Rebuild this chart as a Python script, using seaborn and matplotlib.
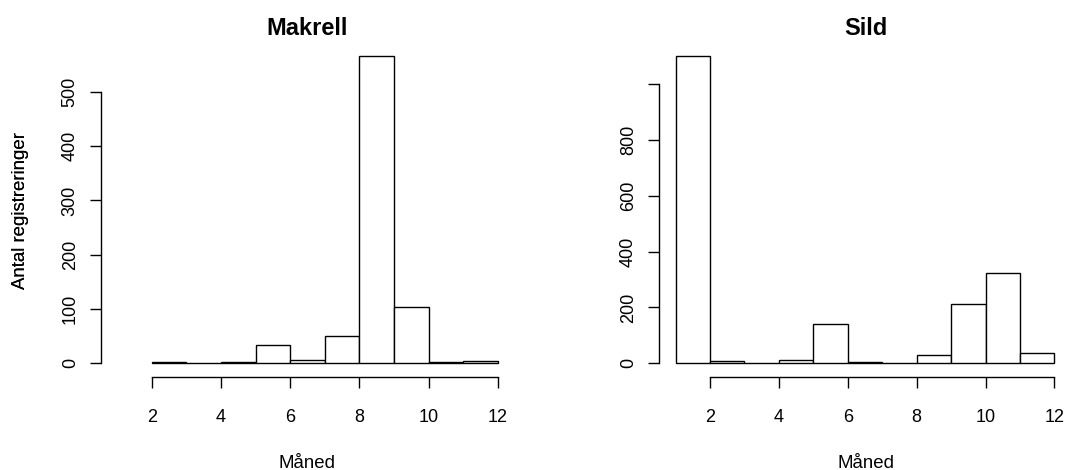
import matplotlib
matplotlib.use("Agg")
import matplotlib.pyplot as plt
import seaborn as sns
import pandas as pd
import numpy as np

# Antal registreringer per måned (histogram, bin = én måned)
makrell_maned = [2, 3, 4, 5, 6, 7, 8, 9, 10, 11]
makrell_antal = [2, 1, 2, 34, 6, 51, 566, 104, 2, 4]
makrell_breaks = list(range(2, 13))

sild_maned = [1, 2, 3, 4, 5, 6, 7, 8, 9, 10, 11]
sild_antal = [1102, 7, 2, 12, 140, 3, 2, 31, 214, 322, 36]
sild_breaks = list(range(1, 13))

x_ticks = [2, 4, 6, 8, 10, 12]
makrell_yticks = [0, 100, 200, 300, 400, 500]
sild_yticks = [0, 200, 400, 600, 800, 1000]
sild_ylabels = ["0", "200", "400", "600", "800", ""]

sns.set_theme(style="ticks")
plt.rcParams["font.family"] = ["Liberation Sans", "DejaVu Sans"]
plt.rcParams["text.color"] = "black"
plt.rcParams["axes.labelcolor"] = "black"
plt.rcParams["xtick.labelcolor"] = "black"
plt.rcParams["ytick.labelcolor"] = "black"

W, H = 1065, 470
fig = plt.figure(figsize=(W / 100, H / 100), dpi=100)


def r_hist(rect, maned, antal, breaks, title, xlim, ylim, yticks, ylabels, ytop):
    left, right, top, bottom = rect
    ax = fig.add_axes([left / W, 1 - bottom / H, (right - left) / W, (bottom - top) / H])
    df = pd.DataFrame({"maned": maned, "antal": antal})
    sns.histplot(data=df, x="maned", weights="antal", bins=breaks, ax=ax,
                 color="white", edgecolor="black", linewidth=1, alpha=1)
    ax.set_xlim(*xlim)
    ax.set_ylim(*ylim)
    ax.set_xticks(x_ticks)
    ax.set_yticks(yticks)
    ax.set_yticklabels(ylabels, rotation=90, va="center")
    for s in ["top", "right"]:
        ax.spines[s].set_visible(False)
    ax.spines["left"].set_bounds(0, ytop)
    ax.spines["bottom"].set_bounds(2, 12)
    for s in ["left", "bottom"]:
        ax.spines[s].set_color("black")
        ax.spines[s].set_linewidth(1)
    ax.tick_params(axis="x", length=8, width=1, color="black", pad=15, labelsize=13)
    ax.tick_params(axis="y", length=8, width=1, color="black", pad=8, labelsize=13)
    ax.set_title(title, fontsize=17, fontweight="bold", pad=6.5, color="black")
    ax.set_xlabel("Måned", fontsize=13.4)
    ax.set_ylabel("Antal registreringer", fontsize=13.4)
    ax.xaxis.set_label_coords(0.5, -(455 - bottom) / (bottom - top))
    ax.yaxis.set_label_coords(-(left - 29) / (right - left), 0.5)
    ax.grid(False)
    return ax


r_hist((101, 513, 44, 377), makrell_maned, makrell_antal, makrell_breaks, "Makrell",
       (0.53, 12.44), (-25, 588), makrell_yticks, [str(v) for v in makrell_yticks], 500)
r_hist((659, 1072, 44, 377), sild_maned, sild_antal, sild_breaks, "Sild",
       (0.52, 12.51), (-49, 1144), sild_yticks, sild_ylabels, 1000)

fig.savefig("out.png", dpi=100)
